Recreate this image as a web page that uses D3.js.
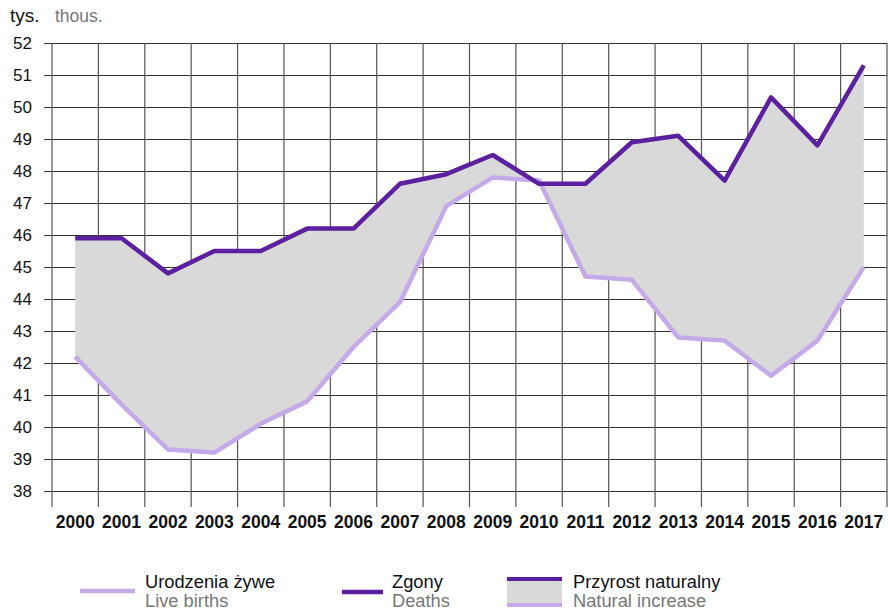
<!DOCTYPE html>
<html>
<head>
<meta charset="utf-8">
<script src="https://cdn.jsdelivr.net/npm/d3@7"></script>
<style>
  html, body { margin: 0; padding: 0; background: #fff; }
  svg { display: block; font-family: "Liberation Sans", Arial, sans-serif; }
</style>
</head>
<body>
<svg id="chart" width="888" height="610"></svg>
<script>
const years = ["2000","2001","2002","2003","2004","2005","2006","2007","2008","2009","2010","2011","2012","2013","2014","2015","2016","2017"];
const births = [42.2, 40.7, 39.3, 39.2, 40.1, 40.8, 42.5, 43.9, 46.9, 47.8, 47.7, 44.7, 44.6, 42.8, 42.7, 41.6, 42.7, 45.0];
const deaths = [45.9, 45.9, 44.8, 45.5, 45.5, 46.2, 46.2, 47.6, 47.9, 48.5, 47.6, 47.6, 48.9, 49.1, 47.7, 50.3, 48.8, 51.3];
const yTicks = [38, 39, 40, 41, 42, 43, 44, 45, 46, 47, 48, 49, 50, 51, 52];

const colBirths = "#c4aae8";
const colDeaths = "#5b1f9f";
const colFill = "#d9d9d9";

const svg = d3.select("#chart");
const plotLeft = 52, plotRight = 887, plotTop = 43, plotBottom = 491;

const x = d3.scaleBand().domain(years).range([plotLeft, plotRight]).padding(0);
const y = d3.scaleLinear().domain([38, 52]).range([plotBottom, plotTop]);
const cx = d => x(d) + x.bandwidth() / 2;

// title
svg.append("text").attr("x", 10).attr("y", 22).attr("font-size", 19).attr("fill", "#111").text("tys.");
svg.append("text").attr("x", 55).attr("y", 22).attr("font-size", 17.5).attr("fill", "#777").text("thous.");

// horizontal grid + y labels via axis
const yAxis = d3.axisLeft(y).tickValues(yTicks).tickSize(-(plotRight - 44)).tickPadding(12).tickFormat(d3.format("d"));
const gy = svg.append("g").attr("transform", "translate(44,0)").call(yAxis);
gy.select(".domain").remove();
gy.selectAll(".tick line").attr("stroke", "#333").attr("stroke-width", 1.2);
gy.selectAll(".tick text").attr("font-size", 17).attr("fill", "#111").attr("font-family", "Liberation Sans, Arial, sans-serif");

// vertical grid lines at band boundaries
const bounds = years.map(d => x(d)).concat([x(years[years.length - 1]) + x.bandwidth()]);
svg.append("g").selectAll("line").data(bounds).join("line")
  .attr("x1", d => d).attr("x2", d => d)
  .attr("y1", plotTop).attr("y2", 507)
  .attr("stroke", "#555").attr("stroke-width", 1.2);

// x labels
svg.append("g").selectAll("text").data(years).join("text")
  .attr("x", d => cx(d)).attr("y", 528)
  .attr("text-anchor", "middle").attr("font-size", 17.5).attr("font-weight", "bold").attr("fill", "#111")
  .text(d => d);

// area between
const idx = years.map((d, i) => i);
const area = d3.area().x(i => cx(years[i])).y0(i => y(births[i])).y1(i => y(deaths[i]));
svg.append("path").datum(idx).attr("d", area).attr("fill", colFill);

const lineB = d3.line().x(i => cx(years[i])).y(i => y(births[i]));
const lineD = d3.line().x(i => cx(years[i])).y(i => y(deaths[i]));
svg.append("path").datum(idx).attr("d", lineB).attr("fill", "none").attr("stroke", colBirths).attr("stroke-width", 4.5).attr("stroke-linejoin", "round");
svg.append("path").datum(idx).attr("d", lineD).attr("fill", "none").attr("stroke", colDeaths).attr("stroke-width", 4.5).attr("stroke-linejoin", "round");

// legend
const lg = svg.append("g");
const fs = 18.3;
lg.append("line").attr("x1", 80).attr("x2", 135).attr("y1", 591).attr("y2", 591).attr("stroke", colBirths).attr("stroke-width", 4.5);
lg.append("text").attr("x", 145).attr("y", 588).attr("font-size", fs).attr("fill", "#111").text("Urodzenia żywe");
lg.append("text").attr("x", 145).attr("y", 607).attr("font-size", fs).attr("fill", "#777").text("Live births");

lg.append("line").attr("x1", 342).attr("x2", 383).attr("y1", 592).attr("y2", 592).attr("stroke", colDeaths).attr("stroke-width", 4.5);
lg.append("text").attr("x", 392).attr("y", 588).attr("font-size", fs).attr("fill", "#111").text("Zgony");
lg.append("text").attr("x", 392).attr("y", 607).attr("font-size", fs).attr("fill", "#777").text("Deaths");

lg.append("rect").attr("x", 507).attr("y", 579).attr("width", 55).attr("height", 27).attr("fill", colFill);
lg.append("line").attr("x1", 507).attr("x2", 562).attr("y1", 579).attr("y2", 579).attr("stroke", colDeaths).attr("stroke-width", 4);
lg.append("line").attr("x1", 507).attr("x2", 562).attr("y1", 605).attr("y2", 605).attr("stroke", colBirths).attr("stroke-width", 4);
lg.append("text").attr("x", 573).attr("y", 588).attr("font-size", fs).attr("fill", "#111").text("Przyrost naturalny");
lg.append("text").attr("x", 573).attr("y", 607).attr("font-size", fs).attr("fill", "#777").text("Natural increase");
</script>
</body>
</html>
